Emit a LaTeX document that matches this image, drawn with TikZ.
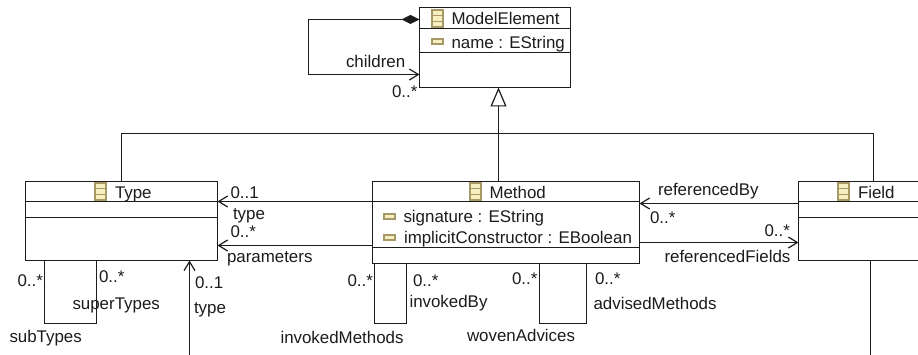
\documentclass[tikz,border=0pt]{standalone}
\usepackage{fontspec}
\setmainfont{Liberation Sans}
\usetikzlibrary{arrows.meta,calc}
\definecolor{ink}{HTML}{1C1C1C}
\definecolor{icoB}{HTML}{A89868}
\definecolor{icoF}{HTML}{F6EFC0}
\tikzset{
  x=1pt,y=-1pt,
  every node/.style={font=\fontsize{16.9}{19}\selectfont,text=ink,inner sep=0pt,outer sep=0pt},
  box/.style={draw=ink,line width=1.2pt,fill=white,anchor=north west,minimum width=#1},
  divider/.style={draw=ink,line width=1.2pt},
  assoc/.style={draw=ink,line width=1.2pt,-{Straight Barb[length=9pt,width=11pt,line width=1.2pt]}},
  link/.style={draw=ink,line width=1.2pt},
  comp/.style={draw=ink,line width=1.2pt,{Diamond[length=18pt,width=9pt,fill=ink]}-{Straight Barb[length=9pt,width=11pt,line width=1.2pt]}},
  gen/.style={draw=ink,line width=1.2pt,-{Triangle[open,length=19pt,width=16pt,line width=1.2pt,fill=white]}},
  lbl/.style={anchor=base west},
  classico/.style={draw=icoB,line width=1.1pt,fill=icoF,minimum width=11pt,minimum height=17pt,anchor=center},
  attrico/.style={draw=icoB,line width=1.1pt,fill=icoF,minimum width=11pt,minimum height=5pt,anchor=center},
}
\begin{document}
\begin{tikzpicture}
\useasboundingbox (0,0) rectangle (918,355);
\clip (0,0) rectangle (918,355);
\fill[white] (0,0) rectangle (918,355);

% free ends and levels
\coordinate (busL) at (121.5,133.5);
\coordinate (busR) at (873.5,133.5);
\coordinate (busM) at (498.5,133.5);
\coordinate (offA) at (189.5,355);
\coordinate (offB) at (870.5,355);
\coordinate (yMT1) at (0,201.5);
\coordinate (yMT2) at (0,245.5);
\coordinate (yFM) at (0,203.5);
\coordinate (yMF) at (0,242.5);
\coordinate (yloop) at (0,323.5);
\coordinate (leftx) at (308.5,0);

% classes
\node[box=151pt,minimum height=80pt] (model) at (419.5,7.5) {};
\node[box=192pt,minimum height=79pt] (type) at (25.5,181.5) {};
\node[box=267pt,minimum height=82pt] (method) at (372.5,181.5) {};
\node[box=170pt,minimum height=79pt] (field) at (798.5,181.5) {};

\coordinate (yC) at (0,19.5);
\coordinate (yD) at (0,74.5);

% connectors
\draw[link] (type.north -| busL) -- (busL) -- (busR) -- (field.north -| busR);
\draw[gen] (method.north -| busM) -- (model.south -| busM);
\draw[comp] (model.west |- yC) -- (leftx |- yC) -- (leftx |- yD) -- (model.west |- yD);
\draw[assoc] (method.west |- yMT1) -- (type.east |- yMT1);
\draw[assoc] (method.west |- yMT2) -- (type.east |- yMT2);
\draw[assoc] (field.west |- yFM) -- (method.east |- yFM);
\draw[assoc] (method.east |- yMF) -- (field.west |- yMF);
\draw[assoc] (offA) -- (type.south -| offA);
\draw[link] (field.south -| offB) -- (offB);

\coordinate (t1) at (44.5,0); \coordinate (t2) at (96.5,0);
\coordinate (m1) at (374.5,0); \coordinate (m2) at (406.5,0);
\coordinate (m3) at (539.5,0); \coordinate (m4) at (586.5,0);
\draw[link] (type.south -| t1) -- (t1 |- yloop) -- (t2 |- yloop) -- (type.south -| t2);
\draw[link] (method.south -| m1) -- (m1 |- yloop) -- (m2 |- yloop) -- (method.south -| m2);
\draw[link] (method.south -| m3) -- (m3 |- yloop) -- (m4 |- yloop) -- (method.south -| m4);

% compartment dividers
\draw[divider] (419.5,28.5) -- (570.5,28.5);
\draw[divider] (419.5,52.5) -- (570.5,52.5);
\draw[divider] (25.5,201.5) -- (217.5,201.5);
\draw[divider] (25.5,217.5) -- (217.5,217.5);
\draw[divider] (372.5,201.5) -- (639.5,201.5);
\draw[divider] (372.5,247.5) -- (639.5,247.5);
\draw[divider] (798.5,201.5) -- (918,201.5);
\draw[divider] (798.5,217.5) -- (918,217.5);

% class icons
\foreach \n/\cx/\cy in {imodel/437.5/18.5, itype/100.5/191.5, imethod/475.5/191.5, ifield/843.5/191.5}{
  \node[classico] (\n) at (\cx,\cy) {};
  \draw[icoB,line width=.7pt] ($(\n.north west)+(0,5.7)$) -- ($(\n.north east)+(0,5.7)$);
  \draw[icoB,line width=.7pt] ($(\n.north west)+(0,11.4)$) -- ($(\n.north east)+(0,11.4)$);
}
\node[attrico] (a1) at (437.5,41.5) {};
\node[attrico] (a2) at (389.5,216.5) {};
\node[attrico] (a3) at (389.5,237.5) {};

% texts in classes
\node[lbl] (tmodel) at (451.5,25) {ModelElement};
\node[lbl] (tname) at (451.5,49) {name : EString};
\node[lbl] (ttype) at (115,199) {Type};
\node[lbl] (tmethod) at (489.5,199) {Method};
\node[lbl] (tfield) at (858,199) {Field};
\node[lbl] (tsig) at (403.5,223) {signature : EString};
\node[lbl] (timp) at (404,244) {implicitConstructor : EBoolean};

% role labels
\node[lbl] at (346,68) {children};
\node[lbl] at (392,98) {0..*};
\node[lbl] at (230.5,199) {0..1};
\node[lbl] at (233,220) {type};
\node[lbl] at (230.5,238) {0..*};
\node[lbl] at (227,263) {parameters};
\node[lbl] at (17.5,287) {0..*};
\node[lbl] at (99,283) {0..*};
\node[lbl] at (72.5,309) {superTypes};
\node[lbl] at (9.5,342) {subTypes};
\node[lbl] at (195,289) {0..1};
\node[lbl] at (194,313) {type};
\node[lbl] at (347.5,287) {0..*};
\node[lbl] at (413,287) {0..*};
\node[lbl] at (409.5,307) {invokedBy};
\node[lbl] at (280.5,343) {invokedMethods};
\node[lbl] at (512,285) {0..*};
\node[lbl] at (595,285) {0..*};
\node[lbl] at (593.5,309) {advisedMethods};
\node[lbl] at (467,341) {wovenAdvices};
\node[lbl] at (658,196) {referencedBy};
\node[lbl] at (650,224) {0..*};
\node[lbl] at (764.5,237) {0..*};
\node[lbl] at (664.5,263) {referencedFields};
\end{tikzpicture}
\end{document}
